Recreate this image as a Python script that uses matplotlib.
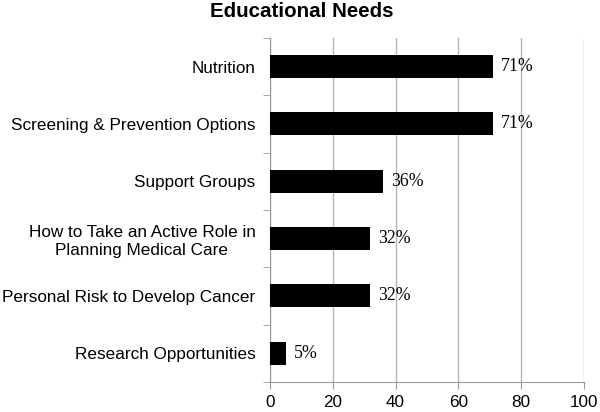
import numpy as np
import matplotlib.pyplot as plt
from matplotlib.ticker import FixedLocator

categories = [
    "Nutrition",
    "Screening & Prevention Options",
    "Support Groups",
    "How to Take an Active Role in\nPlanning Medical Care",
    "Personal Risk to Develop Cancer",
    "Research Opportunities",
]
values = [71, 71, 36, 32, 32, 5]
xticks = [0, 20, 40, 60, 80, 100]

fig = plt.figure(figsize=(6, 4.12), dpi=100)
ax = fig.add_axes([0.45, 0.073, 0.523, 0.835])

y = np.arange(len(categories))
ax.barh(y, values, height=0.4, color="black", zorder=3)
for yi, v in zip(y, values):
    ax.text(v + 2.5, yi, f"{v}%", va="center", ha="left",
            family="Liberation Serif", fontsize=12.8)

ax.set_ylim(len(categories) - 0.5, -0.5)
ax.set_xlim(0, 100)
ax.set_xticks(xticks)
ax.set_xticklabels([str(t) for t in xticks], family="Liberation Sans", fontsize=12.3)
ax.set_yticks(y)
ax.set_yticklabels(categories, family="Liberation Sans", fontsize=12.3,
                   multialignment="center", linespacing=1.25)
ax.yaxis.set_minor_locator(FixedLocator(np.arange(-0.5, len(categories), 1)))
ax.tick_params(axis="y", which="major", length=0, pad=10.5)
ax.tick_params(axis="y", which="minor", length=5, color="#999999", direction="out")
ax.tick_params(axis="x", length=5, color="#999999", direction="out", pad=4.5)

ax.grid(axis="x", color="#b5b5b5", linewidth=1, zorder=0)
for s in ["top", "right"]:
    ax.spines[s].set_visible(False)
for s in ["left", "bottom"]:
    ax.spines[s].set_color("#999999")

fig.suptitle("Educational Needs", x=0.503, y=0.995, fontsize=14.8,
             fontweight="bold", family="Liberation Sans")

fig.savefig("out.png")
